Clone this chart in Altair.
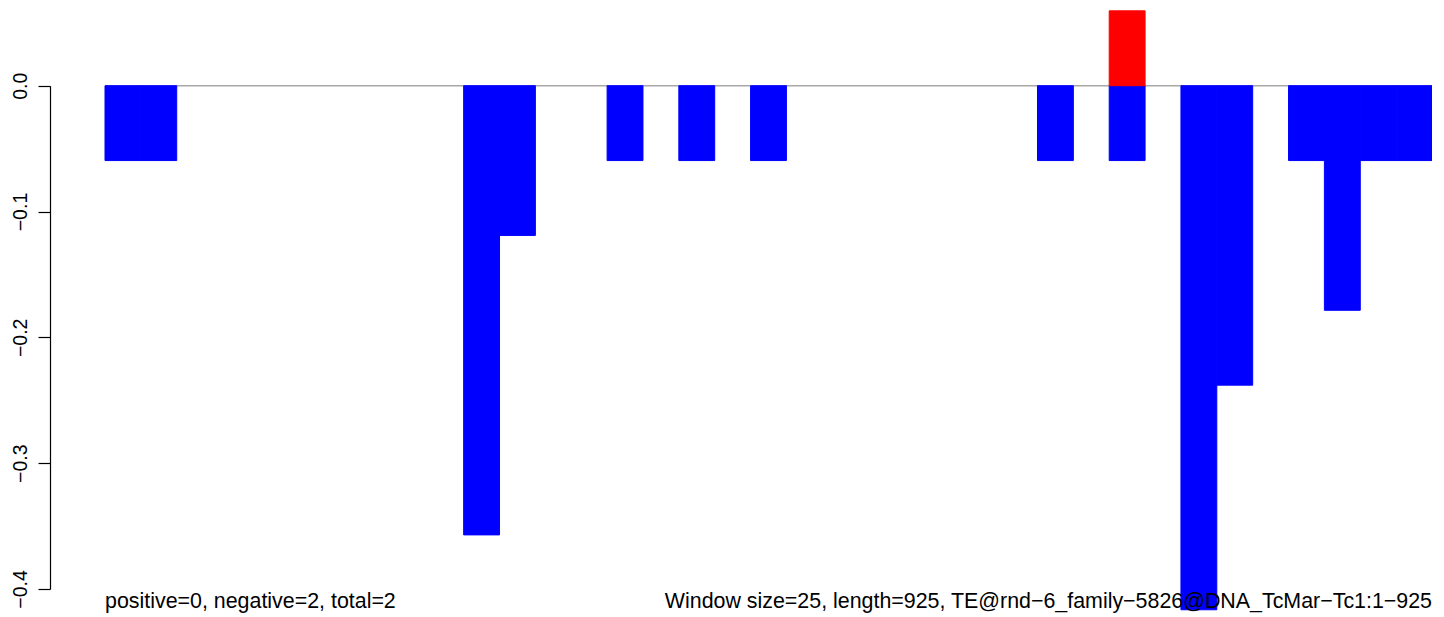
import altair as alt
import pandas as pd

# ---- data ----
window_size = 25
seq_length = 925
negative = [-0.0595, -0.0595, 0, 0, 0, 0, 0, 0, 0, 0,
            -0.357, -0.119, 0, 0, -0.0595, 0, -0.0595, 0, -0.0595, 0,
            0, 0, 0, 0, 0, 0, -0.0595, 0, -0.0595, 0,
            -0.4165, -0.238, 0, -0.0595, -0.1785, -0.0595, -0.0595]
positive = [0] * 28 + [0.0595] + [0] * 8
y_ticks = [0.0, -0.1, -0.2, -0.3, -0.4]
left_note = "positive=0, negative=2, total=2"
right_note = "Window size=25, length=925, TE@rnd\u22126_family\u22125826@DNA_TcMar\u2212Tc1:1\u2212925"

rows = []
for i, (n, p) in enumerate(zip(negative, positive)):
    s, e = i * window_size, (i + 1) * window_size
    if n != 0:
        rows.append({"start": s, "end": e, "value": n, "zero": 0.0, "sign": "negative"})
    if p != 0:
        rows.append({"start": s, "end": e, "value": p, "zero": 0.0, "sign": "positive"})
bars_df = pd.DataFrame(rows)
line_df = pd.DataFrame({"start": [0], "end": [seq_length], "zero": [0.0]})
text_df = pd.DataFrame({"pos": [0, seq_length], "label": [left_note, right_note],
                        "side": ["left", "right"]})

W, H = 1327, 602
FONT = "Liberation Sans"

xscale = alt.Scale(domain=[0, seq_length], nice=False, zero=False)
yscale = alt.Scale(domain=[-0.4, 0.0], range=[581, 77.7], nice=False, zero=False)
cscale = alt.Scale(domain=["negative", "positive"], range=["#0000FF", "#FF0000"])

bars = alt.Chart(bars_df).mark_rect(clip=False, strokeWidth=1).encode(
    x=alt.X("start:Q", scale=xscale, axis=None),
    x2="end:Q",
    y=alt.Y("value:Q", scale=yscale, title=None,
            axis=alt.Axis(values=y_ticks, format=".1f", labelAngle=270,
                          labelAlign="center", labelBaseline="alphabetic",
                          labelFont=FONT, labelFontSize=19.5, labelColor="black",
                          labelPadding=12, tickSize=12, tickColor="black",
                          tickWidth=1.2, domainColor="black", domainWidth=1.2,
                          grid=False, offset=55, labelOverlap=False)),
    y2="zero:Q",
    color=alt.Color("sign:N", scale=cscale, legend=None),
    stroke=alt.Stroke("sign:N", scale=cscale, legend=None),
)

zero_line = alt.Chart(line_df).mark_rule(color="#A8A8A8", strokeWidth=1.5).encode(
    x=alt.X("start:Q", scale=xscale, axis=None),
    x2="end:Q",
    y=alt.Y("zero:Q", scale=yscale),
)

left_txt = alt.Chart(text_df).transform_filter(alt.datum.side == "left").mark_text(
    align="left", baseline="alphabetic", font=FONT, fontSize=21.4, color="black"
).encode(x=alt.X("pos:Q", scale=xscale, axis=None), y=alt.value(599.5), text="label:N")

right_txt = alt.Chart(text_df).transform_filter(alt.datum.side == "right").mark_text(
    align="right", baseline="alphabetic", font=FONT, fontSize=21.4, color="black"
).encode(x=alt.X("pos:Q", scale=xscale, axis=None), y=alt.value(599.5), text="label:N")

chart = alt.layer(zero_line, bars, left_txt, right_txt).properties(
    width=W, height=H,
    autosize=alt.AutoSizeParams(type="none"),
    padding={"left": 97, "top": 0, "right": 0, "bottom": 5},
).configure(background="white").configure_view(strokeWidth=0)

chart.save("out.html", embed_options={"renderer": "svg", "actions": False})
